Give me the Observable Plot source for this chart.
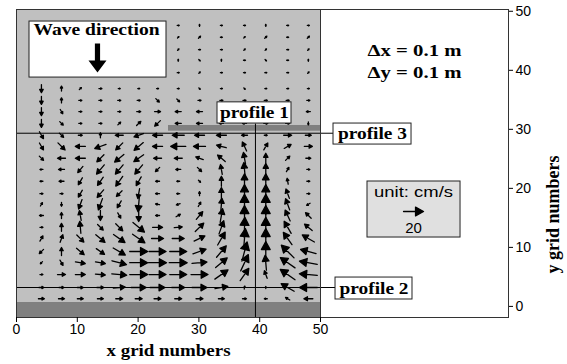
<!DOCTYPE html>
<html><head><meta charset="utf-8">
<script src="https://cdn.jsdelivr.net/npm/d3@7"></script>
<script src="https://cdn.jsdelivr.net/npm/@observablehq/plot@0.6"></script>
<style>body{margin:0;background:#fff} svg{display:block}</style>
</head><body><div id="chart"></div>
<script>
// grid positions (grid numbers) of the velocity vectors
const colX = [4.1, 7.4, 10.5, 13.8, 16.9, 20.1, 23.2, 26.6, 30.1, 33.7, 37.5, 41.0, 44.6, 48.0];
const rowY = [1.3, 3.2, 5.4, 7.4, 9.3, 11.5, 13.4, 15.4, 17.3, 19.1, 21.2, 23.2, 25.1, 27.1, 29.0, 31.0, 33.0, 34.9, 36.9, 39.6, 41.7, 43.5, 45.6, 47.6];
// speed (cm/s), one row per rowY, bottom to top
const speed = [
  [6,6,6,6,7,7,7,7,7,6,4,3,5,9],
  [5,5,6,7,12,15,15,13,15,13,3,2,15,18],
  [3,8,10,10,15,18,17,17,17,16,15,8,18,18],
  [3,6,10,10,15,18,18,18,15,15,18,15,18,18],
  [6,8,10,10,14,18,17,17,14,15,20,20,18,16],
  [6,8,10,12,14,15,12,12,12,15,20,20,15,14],
  [3,8,12,8,10,15,10,8,12,14,20,20,14,10],
  [4,6,10,10,6,12,4,5,10,14,20,20,12,8],
  [4,4,10,12,8,15,4,4,5,12,20,20,12,4],
  [3,3,8,10,8,10,4,3,4,12,18,18,10,3],
  [3,5,8,10,12,10,4,3,3,10,15,15,6,3],
  [3,6,8,12,12,12,6,5,6,10,14,12,5,3],
  [6,8,10,10,12,12,8,8,8,10,12,10,6,5],
  [8,10,10,12,10,12,10,15,12,10,10,8,8,8],
  [8,6,4,5,8,10,10,12,10,10,6,3,8,6],
  [8,5,3,3,4,6,8,6,6,4,4,4,4,3],
  [8,5,3,3,3,4,6,6,6,4,4,4,4,4],
  [8,5,3,3,3,3,5,4,3,3,3,3,3,3],
  [8,5,3,3,2,2,2,2,2,2,2,2,2,2],
  [0,0,0,0,0,0,0,2,2,2,2,2,2,2],
  [0,0,0,0,0,0,0,2,2,2,2,2,2,2],
  [0,0,0,0,0,0,0,2,2,2,2,2,2,2],
  [0,0,0,0,0,0,0,2,3,2,2,3,2,3],
  [0,0,0,0,0,0,0,2,2,2,2,2,2,2]
];
// direction (degrees, counter-clockwise from +x)
const angle = [
  [0,0,0,0,0,0,0,0,0,0,0,180,150,180],
  [0,0,0,0,5,0,0,0,0,10,80,90,150,180],
  [0,0,0,-5,-5,0,0,0,0,35,55,110,145,175],
  [225,-60,-10,-10,-15,0,0,0,5,40,65,95,145,170],
  [225,90,-40,-35,-30,0,0,0,20,50,75,90,135,165],
  [60,70,-45,-40,-35,-35,0,0,25,60,85,90,125,150],
  [0,90,95,-45,-45,-40,0,5,45,70,88,90,120,140],
  [180,90,100,-90,-60,-90,180,30,50,80,90,90,115,135],
  [60,-90,-110,-110,-120,-95,170,200,60,85,90,90,110,210],
  [0,0,-120,-130,-135,-100,180,180,90,90,90,90,110,0],
  [180,180,-120,-125,-125,-120,180,180,-45,90,90,90,100,0],
  [180,180,-130,-130,-130,-130,-135,180,-45,100,95,90,60,0],
  [-45,180,180,-135,-140,-145,180,180,160,140,100,90,45,0],
  [-60,-45,180,-160,-135,-140,180,180,180,165,115,60,30,0],
  [-60,-45,0,90,180,200,180,180,180,180,180,0,0,0],
  [-90,-45,0,0,45,45,-135,180,180,180,180,0,0,-90],
  [-90,-60,0,0,0,0,0,180,180,0,0,0,0,180],
  [-90,90,0,0,0,0,-45,-45,0,0,0,0,0,0],
  [-90,90,45,0,0,0,0,0,-45,0,-45,0,0,0],
  [0,0,0,0,0,0,0,0,45,0,0,0,0,45],
  [0,0,0,0,0,0,0,90,-45,90,0,-45,0,90],
  [0,0,0,0,0,0,0,45,0,0,45,45,0,45],
  [0,0,0,0,0,0,0,45,45,0,45,45,0,45],
  [0,0,0,0,0,0,0,0,90,0,0,90,0,0]
];
const xTicks = [0, 10, 20, 30, 40, 50];
const yTicks = [0, 10, 20, 30, 40, 50];
const legendSpeed = [20];

// annotation regions, boxes and labels (grid-number coordinates)
const regions = [
  {x1: 0, x2: 50, y1: -1.88, y2: 50.3, fill: "#c0c0c0"},
  {x1: 0, x2: 50, y1: -1.88, y2: 0.66, fill: "#808080"},
  {x1: 25.0, x2: 50, y1: 29.68, y2: 30.65, fill: "#808080"}
];
const profileLines = [
  {x1: 0, y1: 29.34, x2: 52.14, y2: 29.34},
  {x1: 0, y1: 3.2, x2: 52.47, y2: 3.2},
  {x1: 39.3, y1: -1.88, x2: 39.3, y2: 30.98}
];
const boxes = [
  {x1: 2.14, x2: 24.67, y1: 38.77, y2: 48.26, fill: "#fff"},
  {x1: 33.06, x2: 45.23, y1: 30.98, y2: 34.57, fill: "#fff"},
  {x1: 52.14, x2: 64.97, y1: 27.42, y2: 30.98, fill: "#fff"},
  {x1: 52.47, x2: 65.13, y1: 1.17, y2: 4.89, fill: "#fff"},
  {x1: 57.73, x2: 73.03, y1: 11.67, y2: 21.16, fill: "#e0e0e0"}
];
const serifLabels = [
  {text: "Wave direction", x: 13.16, y: 46.9},
  {text: "profile 1", x: 39.14, y: 32.76},
  {text: "profile 3", x: 58.55, y: 29.21},
  {text: "profile 2", x: 58.8, y: 3.03},
  {text: "Δx = 0.1 m", x: 65.46, y: 43.35},
  {text: "Δy = 0.1 m", x: 65.46, y: 39.62}
];
const sansLabels = [
  {text: "unit: cm/s", x: 65.3, y: 19.3},
  {text: "20", x: 65.3, y: 13.2}
];

const vectors = [];
rowY.forEach((y, i) => colX.forEach((x, j) => vectors.push({x, y, s: speed[i][j], a: angle[i][j]})));

const arrowShape = {
  draw(ctx, l) {
    const hl = l * 0.4, hw = hl * 0.55;
    ctx.moveTo(0, 0); ctx.lineTo(0, -l + hl * 0.6);
    ctx.moveTo(0, -l); ctx.lineTo(-hw, -l + hl); ctx.lineTo(hw, -l + hl); ctx.closePath();
  }
};
const bigArrow = {
  draw(ctx, l) {
    const sw = 2.6, hw = 9, hl = 12;
    ctx.moveTo(-sw, 0); ctx.lineTo(-sw, -l + hl); ctx.lineTo(-hw, -l + hl); ctx.lineTo(0, -l);
    ctx.lineTo(hw, -l + hl); ctx.lineTo(sw, -l + hl); ctx.lineTo(sw, 0); ctx.closePath();
  }
};
const serif = "Liberation Serif, Times New Roman, serif";
const sans = "Liberation Sans, Arial, sans-serif";

const chart = Plot.plot({
  width: 567, height: 364,
  marginLeft: 16, marginRight: 59, marginTop: 9, marginBottom: 47,
  style: {fontFamily: sans, fontSize: "14px", color: "#000", background: "#fff", overflow: "visible"},
  x: {domain: [0, 80.92]},
  y: {domain: [-1.88, 50.3]},
  length: {type: "identity"},
  marks: [
    Plot.rect(regions, {x1: "x1", x2: "x2", y1: "y1", y2: "y2", fill: d => d.fill}),
    Plot.vector(vectors, {x: "x", y: "y", length: "s", rotate: d => 90 - d.a, anchor: "middle",
      shape: arrowShape, stroke: "#000", fill: "#000", strokeWidth: 1.3}),
    Plot.link(profileLines, {x1: "x1", y1: "y1", x2: "x2", y2: "y2", stroke: "#000", strokeWidth: 1}),
    Plot.ruleX([50], {y1: -1.88, y2: 50.3, stroke: "#333"}),
    Plot.rect(boxes, {x1: "x1", x2: "x2", y1: "y1", y2: "y2", fill: d => d.fill, stroke: "#222", strokeWidth: 1}),
    Plot.text(serifLabels, {x: "x", y: "y", text: "text", fontFamily: serif, fontWeight: "bold", fontSize: 17, fill: "#000"}),
    Plot.text(sansLabels, {x: "x", y: "y", text: "text", fontFamily: sans, fontSize: 15, fill: "#000"}),
    Plot.vector([{x: 13.32, y: 39.62}], {x: "x", y: "y", length: 29, rotate: 180, anchor: "end", shape: bigArrow, fill: "#000", stroke: "none"}),
    Plot.vector(legendSpeed, {x: 65.3, y: 16.08, length: d => d, rotate: 90, anchor: "middle", shape: arrowShape, stroke: "#000", fill: "#000", strokeWidth: 1.3}),
    Plot.frame({stroke: "#333"}),
    Plot.axisX(xTicks, {anchor: "bottom", tickSize: 5, tickPadding: 2, fontSize: 14, label: null}),
    Plot.axisY(yTicks, {anchor: "right", tickSize: 4, tickPadding: 3, fontSize: 14, label: null}),
    Plot.text(["x grid numbers"], {x: 25, frameAnchor: "bottom", dy: 38, fontFamily: serif, fontWeight: "bold", fontSize: 17}),
    Plot.text(["y grid numbers"], {y: 25.57, frameAnchor: "right", dx: 45, rotate: -90, fontFamily: serif, fontWeight: "bold", fontSize: 18})
  ]
});
const widths = {"Wave direction": 126, "profile 1": 69, "profile 2": 69, "profile 3": 69,
  "Δx = 0.1 m": 94, "Δy = 0.1 m": 94, "unit: cm/s": 79, "x grid numbers": 124};
chart.querySelectorAll("text").forEach(t => {
  const w = widths[t.textContent];
  if (w) { t.setAttribute("textLength", w); t.setAttribute("lengthAdjust", "spacingAndGlyphs"); }
});
document.getElementById("chart").appendChild(chart);
</script>
</body></html>
